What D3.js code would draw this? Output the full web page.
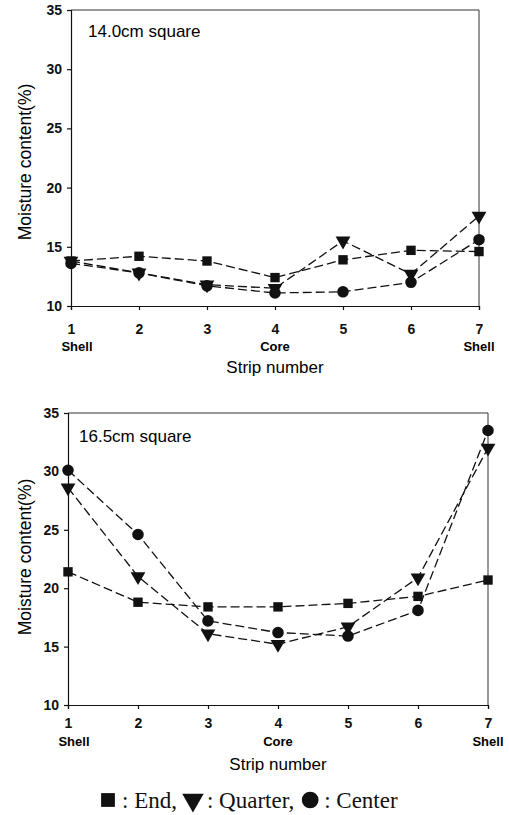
<!DOCTYPE html>
<html>
<head>
<meta charset="utf-8">
<script src="https://cdn.jsdelivr.net/npm/d3@7"></script>
<style>
  body { margin: 0; background: #fff; }
  svg { display: block; }
  .tick text { font-family: 'Liberation Sans', Arial, sans-serif; font-size: 14px; font-weight: bold; fill: #111; }
  .domain, .tick line { stroke: #111; stroke-width: 1.2; }
</style>
</head>
<body>
<svg id="chart" width="509" height="815"></svg>
<script>
// strip positions and notes under the axis
var strips = [1, 2, 3, 4, 5, 6, 7];
var stripNotes = ['Shell', '', '', 'Core', '', '', 'Shell'];
var yTicks = [10, 15, 20, 25, 30, 35];

// 14.0cm square
var end140 = [13.8, 14.2, 13.8, 12.4, 13.9, 14.7, 14.6];
var quarter140 = [13.8, 12.8, 11.8, 11.5, 15.5, 12.7, 17.6];
var center140 = [13.6, 12.8, 11.7, 11.1, 11.2, 12.0, 15.6];

// 16.5cm square
var end165 = [21.4, 18.8, 18.4, 18.4, 18.7, 19.3, 20.7];
var quarter165 = [28.6, 21.0, 16.1, 15.2, 16.7, 20.9, 32.0];
var center165 = [30.1, 24.6, 17.2, 16.2, 15.9, 18.1, 33.5];

var legendLabels = [': End,', ': Quarter,', ': Center'];

var svg = d3.select('#chart');
var sans = "'Liberation Sans', Arial, sans-serif";
var serif = "'Liberation Serif', 'Times New Roman', serif";

var symbols = [
	{ sym: d3.symbolSquare, size: 88, rot: 0 },
	{ sym: d3.symbolTriangle, size: 95, rot: 180 },
	{ sym: d3.symbolCircle, size: 105, rot: 0 }
];

function panel(box, title, ends, quarters, centers) {
	var x = d3.scaleLinear().domain([1, 7]).range([box.left, box.right]);
	var y = d3.scaleLinear().domain([10, 35]).range([box.bottom, box.top]);
	var g = svg.append('g');

	// frame (top and right)
	g.append('path')
		.attr('d', 'M' + box.left + ',' + box.top + 'H' + box.right + 'V' + box.bottom)
		.attr('fill', 'none')
		.attr('stroke', '#333')
		.attr('stroke-width', 1);

	g.append('g')
		.attr('transform', 'translate(0,' + box.bottom + ')')
		.call(d3.axisBottom(x).tickValues(strips).tickSize(4).tickPadding(box.tickPad).tickFormat(d3.format('d')));

	g.append('g')
		.attr('transform', 'translate(' + box.left + ',0)')
		.call(d3.axisLeft(y).tickValues(yTicks).tickSize(4).tickPadding(5).tickFormat(d3.format('d')));

	g.selectAll('.note')
		.data(strips)
		.enter()
		.append('text')
		.attr('x', function (d) { return x(d) + (d === 1 ? 6 : 0); })
		.attr('y', box.bottom + box.noteDy)
		.attr('text-anchor', 'middle')
		.style('font-family', sans)
		.style('font-size', '13px')
		.style('font-weight', 'bold')
		.text(function (d, i) { return stripNotes[i]; });

	g.append('text')
		.attr('x', x(4))
		.attr('y', box.bottom + box.labelDy)
		.attr('text-anchor', 'middle')
		.style('font-family', sans)
		.style('font-size', '17px')
		.text('Strip number');

	g.append('text')
		.attr('transform', 'translate(' + 31 + ',' + box.yMid + ') rotate(-90)')
		.attr('text-anchor', 'middle')
		.style('font-family', sans)
		.style('font-size', '17.5px')
		.text('Moisture content(%)');

	g.append('text')
		.attr('x', box.left + box.titleDx)
		.attr('y', box.top + box.titleDy)
		.style('font-family', sans)
		.style('font-size', '17px')
		.text(title);

	var line = d3.line()
		.x(function (d, i) { return x(strips[i]); })
		.y(function (d) { return y(d); });

	[ends, quarters, centers].forEach(function (vals) {
		g.append('path')
			.datum(vals)
			.attr('d', line)
			.attr('fill', 'none')
			.attr('stroke', '#111')
			.attr('stroke-width', 1.3)
			.attr('stroke-dasharray', '9,4');
	});

	[ends, quarters, centers].forEach(function (vals, k) {
		var s = symbols[k];
		g.selectAll(null)
			.data(vals)
			.enter()
			.append('path')
			.attr('d', d3.symbol().type(s.sym).size(s.size))
			.attr('transform', function (d, i) {
				return 'translate(' + x(strips[i]) + ',' + y(d) + ') rotate(' + s.rot + ')';
			})
			.attr('fill', '#111');
	});
}

panel({ left: 71, right: 479, top: 10, bottom: 306, tickPad: 14, noteDy: 45, labelDy: 67,
	yMid: 162, titleDx: 17, titleDy: 27 }, '14.0cm square', end140, quarter140, center140);
panel({ left: 68, right: 488, top: 413, bottom: 705, tickPad: 9, noteDy: 41, labelDy: 65,
	yMid: 557, titleDx: 11, titleDy: 29 }, '16.5cm square', end165, quarter165, center165);

// legend line at the bottom, pieces chained left to right
var legend = svg.append('g');
var cursor = 101;
var legendSizes = [190, 200, 220];
legendLabels.forEach(function (label, k) {
	var s = symbols[k];
	legend.append('path')
		.attr('d', d3.symbol().type(s.sym).size(legendSizes[k]))
		.attr('transform', 'translate(' + (cursor + 7) + ',' + 800 + ') rotate(' + s.rot + ')')
		.attr('fill', '#111');
	var t = legend.append('text')
		.attr('x', cursor + 21)
		.attr('y', 808)
		.style('font-family', serif)
		.style('font-size', '23px')
		.style('fill', '#111')
		.text(label);
	cursor += 21 + t.node().getComputedTextLength() + 9;
});
</script>
</body>
</html>
